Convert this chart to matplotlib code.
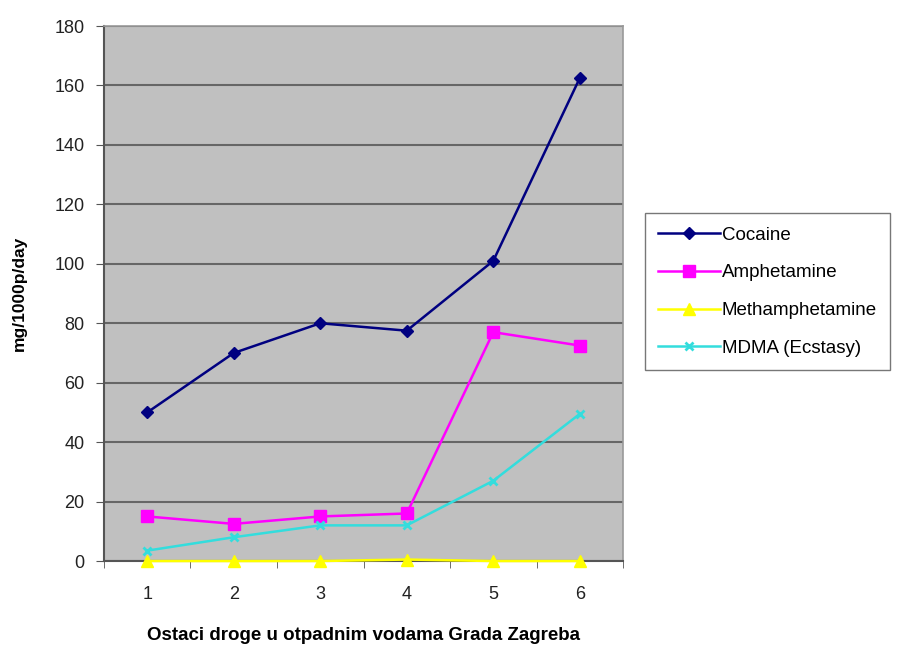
import matplotlib
matplotlib.use("Agg")
import matplotlib.pyplot as plt
import numpy as np

categories = [1, 2, 3, 4, 5, 6]
cocaine = [50, 70, 80, 77.5, 101, 162.5]
amphetamine = [15, 12.5, 15, 16, 77, 72.5]
methamphetamine = [0, 0, 0, 0.5, 0, 0]
mdma = [3.5, 8, 12, 12, 27, 49.5]
series_names = ["Cocaine", "Amphetamine", "Methamphetamine", "MDMA (Ecstasy)"]
yticks = [0, 20, 40, 60, 80, 100, 120, 140, 160, 180]

plt.rcParams['font.family'] = ['Liberation Sans', 'DejaVu Sans']

fig = plt.figure(figsize=(9.09, 6.51), dpi=100)
ax = fig.add_axes([0.1144, 0.1382, 0.5710, 0.8218])
ax.set_facecolor('#c0c0c0')

x = np.arange(len(categories))
styles = [
    dict(color='#000080', marker='D', ms=6),
    dict(color='#ff00ff', marker='s', ms=8),
    dict(color='#ffff00', marker='^', ms=8),
    dict(color='#33dddd', marker='x', ms=6, mew=2),
]
for vals, name, st in zip([cocaine, amphetamine, methamphetamine, mdma], series_names, styles):
    ax.plot(x, vals, label=name, lw=1.8, clip_on=False, zorder=3, **st)

ax.set_xlim(-0.5, len(categories) - 0.5)
ax.set_ylim(0, 180)
ax.set_yticks(yticks)
ax.set_yticklabels([str(v) for v in yticks], fontsize=13, color='#222222')
ax.set_xticks(x)
ax.set_xticklabels([str(c) for c in categories], fontsize=13, color='#222222')
ax.set_xticks(np.arange(-0.5, len(categories), 1), minor=True)
ax.tick_params(axis='x', which='major', length=0, pad=18)
ax.tick_params(axis='x', which='minor', length=5, color='#555555', direction='out')
ax.tick_params(axis='y', length=6, color='#555555', direction='out', pad=8)
ax.yaxis.grid(True, color='#666666', lw=1.5)
ax.set_axisbelow(True)

for s in ['top', 'right']:
    ax.spines[s].set_color('#999999')
    ax.spines[s].set_linewidth(1.2)
for s in ['left', 'bottom']:
    ax.spines[s].set_color('#555555')
    ax.spines[s].set_linewidth(1.5)

ax.set_ylabel('mg/1000p/day', fontsize=12.5, fontweight='bold', labelpad=20)
ax.set_xlabel('Ostaci droge u otpadnim vodama Grada Zagreba', fontsize=13.5, fontweight='bold', labelpad=17)

leg = fig.legend(loc='center left', bbox_to_anchor=(0.699, 0.552), fontsize=13.5,
                 frameon=True, fancybox=False, edgecolor='#777777', framealpha=1,
                 handlelength=3.3, handletextpad=0.1, labelspacing=1.1, borderpad=0.7)
leg.get_frame().set_linewidth(1.0)

fig.savefig('out.png', dpi=100)
